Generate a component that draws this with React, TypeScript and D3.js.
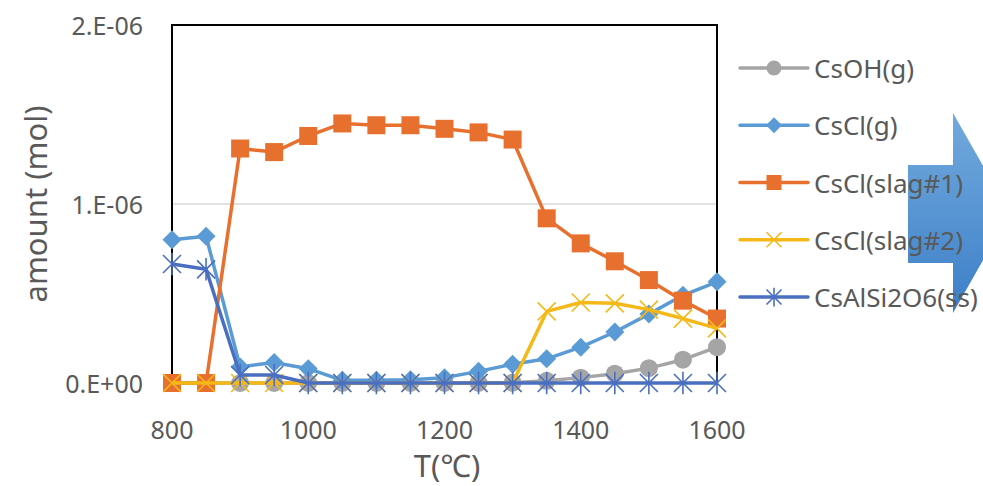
import React from 'react';
import * as d3 from 'd3';

// temperatures (°C)
const temps = [800, 850, 900, 950, 1000, 1050, 1100, 1150, 1200, 1250, 1300, 1350, 1400, 1450, 1500, 1550, 1600];

// amounts in 1e-6 mol
const csOH = [0, 0, 0, 0, 0, 0, 0, 0, 0, 0, 0.002, 0.012, 0.03, 0.052, 0.083, 0.13, 0.2];
const csClG = [0.8, 0.82, 0.09, 0.115, 0.08, 0.015, 0.015, 0.018, 0.03, 0.065, 0.105, 0.135, 0.2, 0.285, 0.385, 0.49, 0.565];
const csClSlag1 = [0, 0, 1.31, 1.29, 1.38, 1.45, 1.44, 1.44, 1.42, 1.4, 1.36, 0.92, 0.78, 0.68, 0.575, 0.46, 0.36];
const csClSlag2 = [0, 0, 0, 0, 0, 0, 0, 0, 0, 0, 0, 0.4, 0.45, 0.445, 0.41, 0.36, 0.305];
const csAlSi2O6 = [0.665, 0.635, 0.045, 0.045, 0, 0, 0, 0, 0, 0, 0, 0, 0, 0, 0, 0, 0];

const seriesNames = ['CsOH(g)', 'CsCl(g)', 'CsCl(slag#1)', 'CsCl(slag#2)', 'CsAlSi2O6(ss)'];
const seriesValues = [csOH, csClG, csClSlag1, csClSlag2, csAlSi2O6];
const seriesColors = ['#A5A5A5', '#5B9BD5', '#E8702F', '#F5B819', '#4A6FC0'];
const markerTypes = ['circle', 'diamond', 'square', 'x', 'star'];

const xTicks = [800, 1000, 1200, 1400, 1600];
const yTicks = [0, 1e-6, 2e-6];
const yTickLabels = ['0.E+00', '1.E-06', '2.E-06'];

const font = '"Noto Sans", "Noto Sans CJK JP", sans-serif';
const textColor = '#595959';

const Marker = ({ type, x, y, color, s }: any) => {
  if (type === 'circle') return <circle cx={x} cy={y} r={s} fill={color} />;
  if (type === 'square') return <rect x={x - s} y={y - s} width={2 * s} height={2 * s} fill={color} />;
  if (type === 'diamond')
    return <path d={`M${x},${y - s}L${x + s},${y}L${x},${y + s}L${x - s},${y}Z`} fill={color} />;
  if (type === 'x')
    return (
      <path d={`M${x - s},${y - s}L${x + s},${y + s}M${x - s},${y + s}L${x + s},${y - s}`}
        stroke={color} strokeWidth={1.6} fill="none" />
    );
  return (
    <path
      d={`M${x - s},${y - s}L${x + s},${y + s}M${x - s},${y + s}L${x + s},${y - s}M${x},${y - s * 1.25}L${x},${y + s * 1.25}`}
      stroke={color} strokeWidth={1.6} fill="none" />
  );
};

const markerSize: Record<string, number> = { circle: 9, square: 9, diamond: 9.5, x: 9, star: 9 };

export default function App() {
  const width = 983;
  const height = 486;
  const left = 172, right = 717, top = 25, bottom = 383;

  const x = d3.scaleLinear().domain([800, 1600]).range([left, right]);
  const y = d3.scaleLinear().domain([0, 2e-6]).range([bottom, top]);

  const line = d3.line<number>()
    .x((d, i) => x(temps[i]))
    .y((d) => y(d * 1e-6));

  const legendY = d3.scalePoint<string>().domain(seriesNames).range([68, 297]);

  return (
    <svg width={width} height={height} style={{ position: 'absolute', left: 0, top: 0, background: '#fff' }}>
      <defs>
        <linearGradient id="arrowGrad" x1="0" y1="0" x2="0" y2="1">
          <stop offset="0" stopColor="#72AADD" />
          <stop offset="1" stopColor="#3C7FC8" />
        </linearGradient>
      </defs>
      <rect width={width} height={height} fill="#fff" />

      {/* gridline */}
      <line x1={left} x2={right} y1={y(1e-6)} y2={y(1e-6)} stroke="#D9D9D9" strokeWidth={1.5} />

      {/* plot border */}
      <rect x={left} y={top} width={right - left} height={bottom - top} fill="none" stroke="#000" strokeWidth={2} />

      {/* y ticks */}
      {yTicks.map((t, i) => (
        <text key={t} x={143} y={y(t)} textAnchor="end" dominantBaseline="central"
          fontFamily={font} fontSize={25} fill={textColor}>{yTickLabels[i]}</text>
      ))}

      {/* x ticks */}
      {xTicks.map((t) => (
        <text key={t} x={x(t)} y={429} textAnchor="middle" dominantBaseline="central"
          fontFamily={font} fontSize={25} fill={textColor}>{t}</text>
      ))}

      <text x={447} y={465} textAnchor="middle" dominantBaseline="central"
        fontFamily={font} fontSize={31} fill={textColor}>T(℃)</text>
      <text transform={`translate(35,204) rotate(-90)`} textAnchor="middle" dominantBaseline="central"
        fontFamily={font} fontSize={31} fill={textColor}>amount (mol)</text>

      {/* series */}
      {seriesValues.map((vals, si) => (
        <g key={seriesNames[si]}>
          <path d={line(vals) || ''} fill="none" stroke={seriesColors[si]} strokeWidth={3.5} strokeLinejoin="round" />
          {vals.map((v, i) => (
            <Marker key={i} type={markerTypes[si]} x={x(temps[i])} y={y(v * 1e-6)}
              color={seriesColors[si]} s={markerSize[markerTypes[si]]} />
          ))}
        </g>
      ))}

      {/* arrow */}
      <path d="M908,165L953,165L953,113L1010,213L953,313L953,263L908,263Z" fill="url(#arrowGrad)" />

      {/* legend */}
      {seriesNames.map((name, si) => {
        const ly = legendY(name) as number;
        return (
          <g key={name}>
            <line x1={740} x2={808} y1={ly} y2={ly} stroke={seriesColors[si]} strokeWidth={3.5} strokeLinecap="round" />
            <Marker type={markerTypes[si]} x={774} y={ly} color={seriesColors[si]} s={markerSize[markerTypes[si]] - 1.5} />
            <text x={814} y={ly} dominantBaseline="central" fontFamily={font} fontSize={26} fill={textColor}>{name}</text>
          </g>
        );
      })}
    </svg>
  );
}
